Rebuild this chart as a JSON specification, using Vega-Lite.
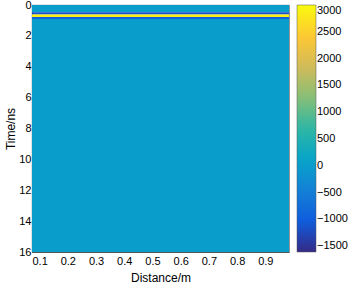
{
  "$schema": "https://vega.github.io/schema/vega-lite/v6.json",
  "width": 257,
  "height": 247,
  "autosize": "none",
  "padding": {"left": 32, "top": 5, "right": 59, "bottom": 31},
  "background": "white",
  "data": {
    "values": [
      {"d0": 0.073, "d1": 0.984, "t0": 0, "t1": 0.47, "v": 0},
      {"d0": 0.073, "d1": 0.984, "t0": 0.47, "t1": 0.62, "v": -1150},
      {"d0": 0.073, "d1": 0.984, "t0": 0.62, "t1": 0.78, "v": 2850},
      {"d0": 0.073, "d1": 0.984, "t0": 0.78, "t1": 0.9, "v": -950},
      {"d0": 0.073, "d1": 0.984, "t0": 0.9, "t1": 16, "v": 0}
    ]
  },
  "mark": {"type": "rect", "strokeWidth": 0},
  "encoding": {
    "x": {
      "field": "d0", "type": "quantitative",
      "scale": {"domain": [0.073, 0.984], "nice": false, "zero": false},
      "axis": {"title": "Distance/m", "values": [0.1,0.2,0.3,0.4,0.5,0.6,0.7,0.8,0.9], "format": ".1f", "grid": false, "tickSize": -3, "labelPadding": 6, "titlePadding": 6}
    },
    "x2": {"field": "d1"},
    "y": {
      "field": "t0", "type": "quantitative",
      "scale": {"domain": [0, 16], "nice": false, "reverse": true},
      "axis": {"title": "Time/ns", "values": [0,2,4,6,8,10,12,14,16], "grid": false, "tickSize": -3, "labelPadding": 4, "titlePadding": 1}
    },
    "y2": {"field": "t1"},
    "color": {
      "field": "v", "type": "quantitative",
      "scale": {
        "domain": [-1610, 3000],
        "range": ["#352A87", "#0F5CDD", "#1481D6", "#06A4CA", "#2EB7A4", "#87BF77", "#D1BB59", "#FEC832", "#F9FB0E"],
        "interpolate": "rgb",
        "nice": false,
        "zero": false
      },
      "legend": {
        "title": null,
        "orient": "right",
        "offset": 8,
        "padding": 0,
        "gradientLength": 247,
        "gradientThickness": 19,
        "values": [-1500,-1000,-500,0,500,1000,1500,2000,2500,3000],
        "format": "d",
        "labelFontSize": 11,
        "labelFont": "Liberation Sans",
        "labelColor": "#000",
        "labelOffset": 1,
        "gradientStrokeColor": "#555",
        "gradientStrokeWidth": 0.5,
        "labelOverlap": false
      }
    }
  },
  "config": {
    "view": {"stroke": "#555", "strokeWidth": 0.8},
    "axis": {
      "labelFont": "Liberation Sans",
      "titleFont": "Liberation Sans",
      "labelFontSize": 11,
      "titleFontSize": 12,
      "titleFontWeight": "normal",
      "labelColor": "#000",
      "titleColor": "#000",
      "domainColor": "#555",
      "tickColor": "#555"
    }
  }
}
